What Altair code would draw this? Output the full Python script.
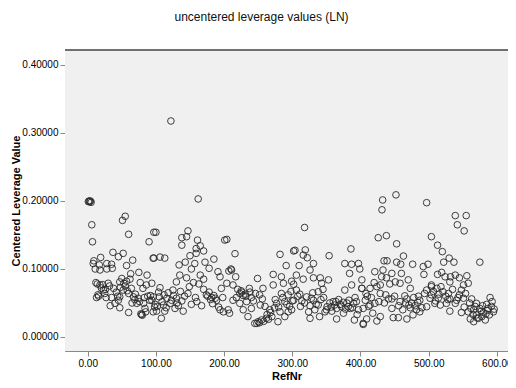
import altair as alt
import pandas as pd

# RefNr 0-100
refnr_a = [1, 2, 3, 4, 5, 6, 7, 55, 51, 60, 90, 97, 96, 9, 19, 8, 17, 28, 35, 11, 18, 28, 36, 37, 45, 52, 66, 57,
           75, 87, 63, 12, 18, 30, 47, 57, 62, 86, 94, 23, 38, 52, 64, 81, 13, 27, 47, 60, 67, 74, 91, 40, 45, 72, 82,
           47, 60, 79, 80, 78, 84, 96, 33, 94, 15, 20, 25, 32, 42, 55, 70, 77, 88, 99, 35, 65, 50,
           14, 16, 22, 26, 44, 48, 53, 58, 69, 76, 83, 85, 92, 98]
lev_a = [0.199, 0.200, 0.199, 0.200, 0.198, 0.165, 0.140, 0.1775, 0.1715, 0.151, 0.140, 0.154, 0.116, 0.112, 0.117,
         0.108, 0.106, 0.108, 0.107, 0.100, 0.0985, 0.100, 0.101, 0.1245, 0.118, 0.123, 0.113, 0.105,
         0.095, 0.091, 0.093, 0.080, 0.0765, 0.079, 0.081, 0.082, 0.085, 0.0765, 0.079, 0.069, 0.0715, 0.069, 0.0715,
         0.0715, 0.058, 0.058, 0.059, 0.064, 0.059, 0.057, 0.054, 0.0495, 0.054, 0.0495, 0.0495,
         0.043, 0.036, 0.033, 0.032, 0.034, 0.042, 0.037, 0.046, 0.054, 0.062, 0.072, 0.064, 0.075, 0.066, 0.075,
         0.063, 0.080, 0.060, 0.048, 0.058, 0.050, 0.086,
         0.078, 0.060, 0.077, 0.070, 0.060, 0.073, 0.079, 0.068, 0.055, 0.052, 0.058, 0.037, 0.061, 0.044]

# RefNr 100-200
refnr_b = [122, 162, 100, 147, 138, 145, 138, 161, 165, 159, 170, 159, 97, 106, 113, 150, 185, 201, 134, 157, 172,
           178, 143, 152, 191, 135, 145, 165, 170, 194, 130, 155, 149, 106, 125, 196, 96, 105, 116, 123, 130, 138,
           152, 174, 182, 189, 121, 111, 101, 108, 113, 140, 128, 167, 194, 199, 176, 180, 185, 118, 112, 142, 160,
           102, 133, 170, 198, 104, 109, 115, 126, 131, 136, 147, 158, 163, 178, 183, 187, 192]
lev_b = [0.3176, 0.203, 0.154, 0.156, 0.146, 0.1475, 0.135, 0.1425, 0.134, 0.130, 0.1265, 0.123, 0.116, 0.1175,
         0.116, 0.1195, 0.1145, 0.1425, 0.106, 0.108, 0.110, 0.101, 0.110, 0.100, 0.096, 0.091, 0.087, 0.091, 0.085,
         0.0885, 0.081, 0.080, 0.074, 0.0725, 0.069, 0.0715, 0.059, 0.059, 0.057, 0.054, 0.057, 0.053,
         0.048, 0.062, 0.058, 0.054, 0.0495, 0.047, 0.038, 0.0275, 0.038, 0.038, 0.042, 0.046, 0.040, 0.037, 0.060,
         0.055, 0.061, 0.065, 0.062, 0.060, 0.052, 0.045, 0.046, 0.070, 0.058,
         0.066, 0.052, 0.043, 0.061, 0.050, 0.067, 0.064, 0.058, 0.078, 0.066, 0.049, 0.057, 0.044]

# RefNr 200-300
refnr_c = [204, 216, 282, 302, 291, 272, 284, 211, 217, 249, 257, 204, 213, 237, 272, 287, 299, 223, 231, 252, 284,
           294, 213, 233, 243, 253, 277, 289, 300, 206, 228, 240, 267, 282, 294, 235, 245, 255, 262, 279, 250, 289,
           223, 210, 207, 225, 228, 248, 252, 258, 265, 270, 218, 240, 260, 275, 296, 208,
           220, 226, 232, 238, 246, 256, 263, 268, 274, 280, 286, 292, 298]
lev_c = [0.1435, 0.1225, 0.1215, 0.1265, 0.105, 0.092, 0.0885, 0.0985, 0.0885, 0.086, 0.0715, 0.079, 0.0765, 0.0715,
         0.0765, 0.079, 0.082, 0.064, 0.063, 0.062, 0.064, 0.062, 0.054, 0.052, 0.053, 0.047, 0.0495, 0.052, 0.053,
         0.040, 0.040, 0.042, 0.040, 0.037, 0.037, 0.030, 0.020, 0.025, 0.0275, 0.0225, 0.0225, 0.030, 0.0495,
         0.100, 0.097, 0.068, 0.061, 0.020, 0.021, 0.023, 0.026, 0.030, 0.058, 0.058, 0.045, 0.055, 0.045, 0.035,
         0.070, 0.066, 0.060, 0.066, 0.064, 0.056, 0.033, 0.036, 0.043, 0.044, 0.058, 0.048, 0.067]

# RefNr 300-400
refnr_d = [318, 386, 354, 304, 319, 316, 322, 331, 310, 377, 387, 397, 399, 384, 326, 306, 316, 331, 341, 353, 402,
           302, 343, 387, 377, 402, 306, 338, 311, 321, 302, 314, 331, 346, 360, 375, 390, 326, 338, 351, 365, 382,
           397, 299, 324, 333, 348, 365, 391, 326, 404, 375, 355, 362, 368, 372, 380, 385, 358, 308, 330, 345, 392,
           395, 340, 312, 318, 328, 335, 342, 350, 357, 364, 370, 378, 383, 388, 394]
lev_d = [0.161, 0.1295, 0.1195, 0.1275, 0.128, 0.1205, 0.1165, 0.108, 0.105, 0.108, 0.107, 0.108, 0.100, 0.0935,
         0.0985, 0.091, 0.085, 0.087, 0.087, 0.084, 0.084, 0.0775, 0.079, 0.0765, 0.069, 0.0715, 0.069, 0.0665,
         0.063, 0.059, 0.054, 0.053, 0.054, 0.058, 0.052, 0.051, 0.0495, 0.046, 0.047, 0.0445, 0.042, 0.0445,
         0.040, 0.040, 0.037, 0.040, 0.037, 0.0265, 0.025, 0.0275, 0.020, 0.035, 0.050, 0.047, 0.055, 0.045, 0.050,
         0.042, 0.038, 0.060, 0.065, 0.070, 0.058, 0.033, 0.030,
         0.045, 0.050, 0.057, 0.048, 0.055, 0.040, 0.044, 0.052, 0.048, 0.041, 0.054, 0.043, 0.052]

# RefNr 400-500
refnr_e = [452, 432.5, 431.5, 497, 426, 438, 453, 504, 463, 434.5, 439, 453, 459, 476.5, 492, 499, 421, 433, 446,
           460, 493, 431, 438, 451, 458, 470, 414, 424, 429, 473, 497, 504, 402, 429, 465, 407, 441, 446, 458, 468,
           487, 502, 414, 421, 404, 446, 473, 482, 497, 409, 424, 448, 455.5, 468, 477, 487, 404, 429, 410, 418,
           412, 435, 475, 480, 490, 485, 420, 443, 408, 416, 427, 437, 450, 456, 462, 466, 471, 478, 484, 494]
lev_e = [0.209, 0.2015, 0.187, 0.1975, 0.146, 0.149, 0.137, 0.1475, 0.119, 0.112, 0.112, 0.110, 0.107, 0.107,
         0.1035, 0.107, 0.096, 0.0985, 0.0935, 0.0935, 0.092, 0.0885, 0.087, 0.081, 0.079, 0.084, 0.0715, 0.074,
         0.0765, 0.0715, 0.069, 0.074, 0.0715, 0.064, 0.0605, 0.054, 0.056, 0.056, 0.052, 0.056, 0.054, 0.057,
         0.047, 0.0495, 0.042, 0.042, 0.043, 0.040, 0.0445, 0.0265, 0.0235, 0.0285, 0.0285, 0.0265, 0.0325, 0.037,
         0.0185, 0.030, 0.060, 0.035, 0.045, 0.050, 0.050, 0.046, 0.043, 0.060, 0.080, 0.078, 0.064,
         0.058, 0.052, 0.062, 0.060, 0.046, 0.040, 0.050, 0.047, 0.058, 0.051, 0.064]

# RefNr 500-600
refnr_f = [539, 555, 542, 552, 513, 520, 530, 522, 537, 575, 513, 519, 524, 532, 539, 545, 556, 558, 548, 551, 531,
           504, 512, 521, 529, 504, 514, 531, 541, 551, 563, 590, 517, 526, 539, 509, 570, 585, 575, 587, 595, 566,
           558, 580, 531, 548, 561, 566, 573, 583, 589, 570, 578, 507, 515, 525, 535, 545, 560, 568, 577, 584, 592,
           565, 552, 510, 518, 528, 543, 554, 562, 571, 579, 586, 593, 596]
lev_f = [0.1785, 0.1785, 0.165, 0.156, 0.135, 0.1255, 0.116, 0.110, 0.110, 0.110, 0.092, 0.095, 0.0885, 0.0885,
         0.091, 0.087, 0.090, 0.079, 0.069, 0.0765, 0.081, 0.0765, 0.0715, 0.0665, 0.064, 0.062, 0.057, 0.056,
         0.054, 0.057, 0.056, 0.058, 0.047, 0.0495, 0.0495, 0.0495, 0.0495, 0.048, 0.042, 0.042, 0.037, 0.040,
         0.037, 0.036, 0.038, 0.036, 0.0265, 0.0225, 0.0275, 0.025, 0.0325, 0.0325, 0.030, 0.067, 0.063, 0.060,
         0.070, 0.062, 0.050, 0.045, 0.038, 0.034, 0.045, 0.033, 0.044, 0.053,
         0.074, 0.055, 0.058, 0.064, 0.042, 0.028, 0.046, 0.039, 0.052, 0.041]

x_ticks = [0, 100, 200, 300, 400, 500, 600]
y_ticks = [0.0, 0.1, 0.2, 0.3, 0.4]

df = pd.DataFrame({
    "RefNr": refnr_a + refnr_b + refnr_c + refnr_d + refnr_e + refnr_f,
    "Leverage": lev_a + lev_b + lev_c + lev_d + lev_e + lev_f,
})

W, H = 443, 301
FONT = "Liberation Sans"

bg = alt.Chart(df).mark_rect(fill="#F0F0F0").encode(
    x=alt.value(0), x2=alt.value(W), y=alt.value(0), y2=alt.value(H)
)

points = alt.Chart(df).mark_point(
    shape="circle", filled=False, size=44, stroke="#2a2a2a", strokeWidth=1, opacity=0.9
).encode(
    x=alt.X("RefNr:Q", scale=alt.Scale(domain=[-33.3, 616.3], nice=False, zero=False),
            axis=alt.Axis(values=x_ticks, format=".2f", title="RefNr", grid=False,
                          tickSize=5, labelPadding=2, titlePadding=2)),
    y=alt.Y("Leverage:Q", scale=alt.Scale(domain=[-0.0206, 0.422], nice=False, zero=False),
            axis=alt.Axis(values=y_ticks, format=".5f", title="Centered Leverage Value", grid=False,
                          tickSize=5, labelPadding=2, titlePadding=0)),
)

top_line = alt.Chart(df).mark_rule(color="#707070", strokeWidth=1).encode(
    x=alt.value(0), x2=alt.value(W), y=alt.value(0)
)

chart = alt.layer(bg, points, top_line).properties(
    width=W, height=H,
    title=alt.TitleParams("uncentered leverage values (LN)", anchor="middle", frame="bounds",
                          fontSize=12, fontWeight="normal", font=FONT, color="#111", offset=26),
    autosize=alt.AutoSizeParams(type="none"),
    padding={"left": 57, "top": 42, "right": 0, "bottom": 29},
).configure_view(
    stroke="transparent", strokeWidth=0
).configure_axis(
    domainColor="#606060", tickColor="#606060", labelColor="#333", labelFont=FONT, labelFontSize=9,
    titleFont=FONT, titleFontSize=12, titleFontWeight="bold", titleColor="#111",
).configure(background="white")

chart.save("out.html", embed_options={"renderer": "svg", "actions": False})
